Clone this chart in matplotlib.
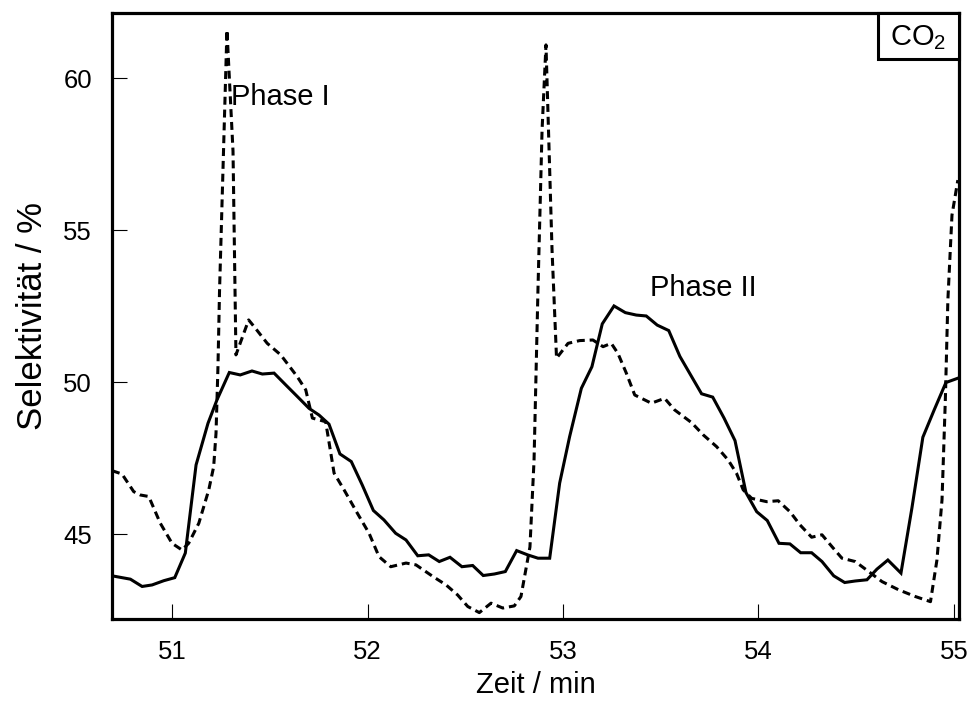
import matplotlib
matplotlib.use("Agg")
import matplotlib.pyplot as plt
from matplotlib.patches import Rectangle

plt.rcParams['font.family'] = ['Liberation Sans', 'DejaVu Sans']
plt.rcParams['mathtext.fontset'] = 'custom'
plt.rcParams['mathtext.rm'] = 'Liberation Sans'
plt.rcParams['mathtext.it'] = 'Liberation Sans:italic'

# Solid curve: time (min) and selectivity (%)
t_solid = [50.693, 50.787, 50.847, 50.898, 50.958, 51.014, 51.068, 51.123, 51.184, 51.230,
           51.293, 51.349, 51.409, 51.462, 51.522, 51.582, 51.641, 51.701, 51.752, 51.803,
           51.859, 51.917, 51.973, 52.030, 52.084, 52.144, 52.197, 52.257, 52.313, 52.367,
           52.422, 52.483, 52.538, 52.592, 52.649, 52.705, 52.763, 52.819, 52.872, 52.932,
           52.983, 53.034, 53.094, 53.148, 53.201, 53.261, 53.319, 53.375, 53.426, 53.482,
           53.541, 53.598, 53.653, 53.709, 53.766, 53.824, 53.880, 53.936, 53.991, 54.045,
           54.105, 54.161, 54.216, 54.272, 54.325, 54.385, 54.441, 54.495, 54.555, 54.606,
           54.662, 54.729, 54.785, 54.841, 54.899, 54.959, 55.032]
s_solid = [43.63, 43.52, 43.28, 43.33, 43.47, 43.57, 44.38, 47.28, 48.65, 49.42,
           50.32, 50.24, 50.37, 50.27, 50.30, 49.91, 49.53, 49.14, 48.92, 48.62,
           47.64, 47.39, 46.62, 45.78, 45.47, 45.03, 44.81, 44.29, 44.32, 44.10,
           44.24, 43.93, 43.97, 43.64, 43.69, 43.77, 44.46, 44.32, 44.21, 44.21,
           46.68, 48.21, 49.80, 50.51, 51.92, 52.51, 52.29, 52.21, 52.18, 51.88,
           51.70, 50.85, 50.24, 49.62, 49.51, 48.82, 48.08, 46.37, 45.74, 45.45,
           44.70, 44.68, 44.39, 44.39, 44.10, 43.63, 43.41, 43.46, 43.50, 43.85,
           44.15, 43.72, 45.86, 48.19, 49.09, 49.99, 50.16]

# Dashed curve: time (min) and selectivity (%)
t_dash = [50.693, 50.744, 50.804, 50.838, 50.881, 50.940, 51.000, 51.051, 51.085, 51.137,
          51.188, 51.213, 51.225, 51.235, 51.243, 51.281, 51.312, 51.327, 51.392, 51.426,
          51.487, 51.556, 51.641, 51.684, 51.718, 51.786, 51.829, 51.880, 51.948, 52.008,
          52.059, 52.119, 52.197, 52.248, 52.334, 52.402, 52.461, 52.513, 52.572, 52.632,
          52.692, 52.751, 52.785, 52.831, 52.852, 52.872, 52.893, 52.913, 52.944, 52.967,
          53.026, 53.085, 53.153, 53.205, 53.247, 53.281, 53.324, 53.367, 53.452, 53.520,
          53.571, 53.658, 53.717, 53.786, 53.845, 53.888, 53.922, 53.965, 54.042, 54.101,
          54.161, 54.212, 54.272, 54.325, 54.376, 54.427, 54.495, 54.564, 54.632, 54.717,
          54.802, 54.880, 54.913, 54.939, 54.956, 54.969, 54.990, 55.020]
s_dash = [47.09, 46.98, 46.40, 46.29, 46.24, 45.36, 44.70, 44.48, 44.70, 45.36,
          46.46, 47.22, 48.32, 50.51, 53.00, 61.59, 57.60, 50.90, 52.05, 51.78,
          51.28, 50.90, 50.18, 49.75, 48.82, 48.70, 47.01, 46.46, 45.69, 45.03,
          44.26, 43.93, 44.05, 43.99, 43.61, 43.33, 43.00, 42.62, 42.42, 42.73,
          42.57, 42.64, 42.95, 44.58, 47.44, 53.04, 58.30, 61.10, 54.35, 50.79,
          51.28, 51.37, 51.39, 51.17, 51.28, 50.95, 50.30, 49.58, 49.31, 49.47,
          49.09, 48.67, 48.27, 47.88, 47.44, 47.00, 46.46, 46.18, 46.07, 46.10,
          45.74, 45.31, 44.90, 44.98, 44.59, 44.21, 44.10, 43.77, 43.44, 43.17,
          42.95, 42.78, 44.15, 46.13, 49.42, 52.71, 55.50, 56.65]

x_ticks = [51, 52, 53, 54, 55]
y_ticks = [45, 50, 55, 60]

fig = plt.figure(figsize=(9.69, 7.01), dpi=100)
ax = fig.add_axes([0.1156, 0.117, 0.8741, 0.8645])

ax.plot(t_solid, s_solid, color='black', lw=2.2, solid_joinstyle='miter')
ax.plot(t_dash, s_dash, color='black', lw=2.2, dashes=(2.6, 1.6))

ax.set_xlim(50.693, 55.026)
ax.set_ylim(42.21, 62.15)
ax.set_xticks(x_ticks)
ax.set_yticks(y_ticks)
ax.tick_params(direction='in', length=11, width=0.8, labelsize=18.5)
ax.tick_params(axis='y', pad=14.5)
ax.tick_params(axis='x', pad=15)
for sp in ax.spines.values():
    sp.set_linewidth(2.3)

ax.set_xlabel('Zeit / min', fontsize=21, labelpad=5)
ax.set_ylabel('Selektivität / %', fontsize=25, labelpad=10)

ax.text(51.30, 59.4, 'Phase I', fontsize=21, va='center', ha='left')
ax.text(53.445, 53.1, 'Phase II', fontsize=21, va='center', ha='left')

# species label box in the upper right corner
ax.add_patch(Rectangle((0.904, 0.924), 0.096, 0.076, transform=ax.transAxes,
                       facecolor='white', edgecolor='black', lw=2.2, zorder=5,
                       clip_on=False))
ax.text(0.952, 0.960, r'CO$_2$', transform=ax.transAxes, fontsize=21,
        ha='center', va='center', zorder=6)

fig.savefig('out.png', dpi=100)
